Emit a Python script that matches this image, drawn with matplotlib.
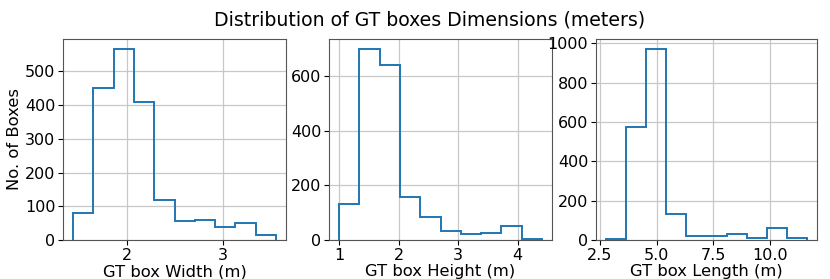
import numpy as np
import matplotlib
matplotlib.use("Agg")
import matplotlib.pyplot as plt

# bin edges and counts
width_edges = np.linspace(1.433, 3.556, 11)
width_counts = [80, 450, 568, 408, 118, 57, 60, 40, 50, 15]

height_edges = np.linspace(1.0, 4.405, 11)
height_counts = [133, 700, 639, 157, 84, 33, 22, 24, 52, 5]

length_edges = np.linspace(2.78, 11.62, 11)
length_counts = [5, 573, 973, 134, 20, 20, 32, 8, 63, 12]

xlabels = ["GT box Width (m)", "GT box Height (m)", "GT box Length (m)"]

fig = plt.figure(figsize=(8.3, 2.79), dpi=100)
W, H = 830, 279
boxes = [(63, 286), (329, 552), (596, 817)]
top, bottom = 39, 240

data = [(width_edges, width_counts), (height_edges, height_counts),
        (length_edges, length_counts)]

for k, ((x0, x1), (edges, counts)) in enumerate(zip(boxes, data)):
    ax = fig.add_axes([x0 / W, (H - bottom) / H, (x1 - x0) / W, (bottom - top) / H])
    ax.hist(edges[:-1], bins=edges, weights=counts, histtype="step",
            color="#1f77b4", linewidth=1.4)
    ax.grid(True, color="#c8c8c8", linewidth=0.9)
    ax.set_axisbelow(True)
    ax.set_xlabel(xlabels[k], fontsize=11.8, labelpad=1)
    ax.tick_params(labelsize=11.5, pad=2, length=3.5)
    for s in ax.spines.values():
        s.set_color("#555555")
    if k == 0:
        ax.set_ylabel("No. of Boxes", fontsize=11.8, labelpad=2)

fig.text(430 / W, (H - 25) / H, "Distribution of GT boxes Dimensions (meters)",
         fontsize=13.6, ha="center", va="baseline")
fig.savefig("out.png", dpi=100)
